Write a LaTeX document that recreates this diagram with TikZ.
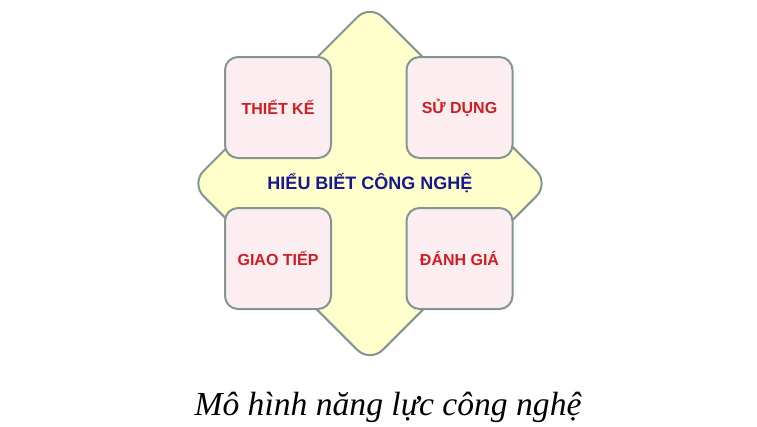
\documentclass[tikz,border=0pt]{standalone}
\usepackage{fontspec}
\setmainfont{Liberation Sans}
\newfontfamily\captionfont{Liberation Serif}
\usetikzlibrary{shapes.geometric}

\definecolor{edgegray}{RGB}{132,150,146}
\definecolor{corefill}{RGB}{255,255,204}
\definecolor{skillfill}{RGB}{252,238,240}
\definecolor{skillred}{RGB}{206,30,36}
\definecolor{coreblue}{RGB}{24,24,140}

\begin{document}
\begin{tikzpicture}
		[x=1pt,y=-1pt,
		core node/.style={diamond,draw=edgegray,fill=corefill,line width=2pt,rounded corners=18pt,minimum size=359pt,inner sep=0pt,text=coreblue,font=\bfseries\fontsize{18}{20}\selectfont},
		skill node/.style={rectangle,draw=edgegray,fill=skillfill,line width=2pt,rounded corners=13pt,minimum width=106pt,minimum height=101pt,text=skillred,font=\bfseries\fontsize{16}{18}\selectfont}]
		\useasboundingbox (0,0) rectangle (757,426);
		\def \lx {278}
		\def \rx {459.5}
		
		\node[core node] (core) at (370,183.5) {HIỂU BIẾT CÔNG NGHỆ};
		
		\node[skill node] (design) at (\lx,107.5) {THIẾT KẾ};
		\node[skill node] (use) at (\rx,107.5) {SỬ DỤNG};
		\node[skill node] (talk) at (\lx,258.5) {GIAO TIẾP};
		\node[skill node] (judge) at (\rx,258.5) {ĐÁNH GIÁ};
		
		\node[anchor=base,font=\captionfont\itshape\fontsize{33.6}{38}\selectfont] (caption) at (388,415) {Mô hình năng lực công nghệ};
		\end{tikzpicture}
\end{document}
